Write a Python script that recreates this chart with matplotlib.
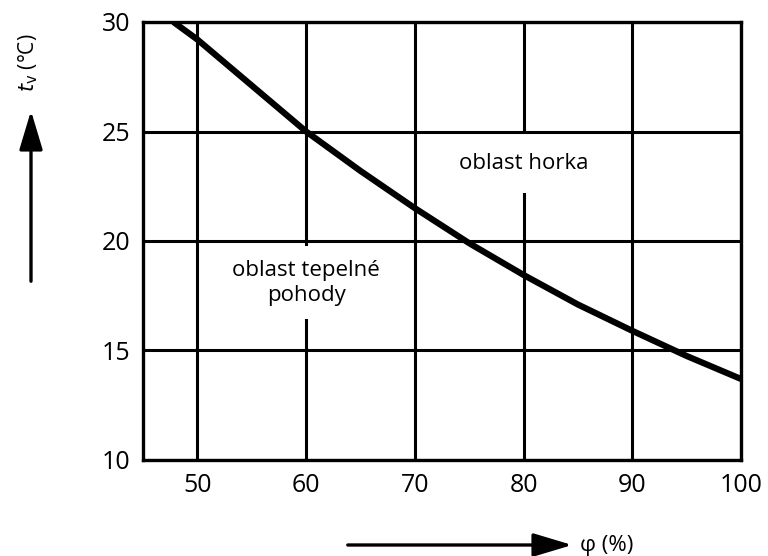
import matplotlib

matplotlib.use("Agg")
import matplotlib.pyplot as plt

plt.rcParams["font.family"] = ["Open Sans", "DejaVu Sans"]

# relative humidity (%) vs air temperature limit (°C)
phi = [47.8, 50, 55, 60, 65, 70, 75, 80, 85, 90, 95, 100]
t_v = [30.0, 29.2, 27.1, 25.0, 23.2, 21.5, 19.9, 18.45, 17.1, 15.9, 14.75, 13.7]

x_ticks = [50, 60, 70, 80, 90, 100]
y_ticks = [10, 15, 20, 25, 30]

W, H = 768, 556
fig = plt.figure(figsize=(W / 100, H / 100), dpi=100)
ax = fig.add_axes([143 / W, 1 - 460 / H, (741 - 143) / W, (460 - 22) / H])

ax.set_xlim(45, 100)
ax.set_ylim(10, 30)
ax.set_xticks(x_ticks)
ax.set_yticks(y_ticks)
ax.tick_params(length=0, labelsize=18, pad=9)
for s in ax.spines.values():
    s.set_linewidth(2.4)
    s.set_zorder(6)

# grid drawn by hand: labels mask the vertical lines only
for x in x_ticks:
    ax.axvline(x, color="black", lw=2.2, zorder=1)
for y in y_ticks:
    ax.axhline(y, color="black", lw=2.2, zorder=3)

ax.plot(phi, t_v, color="black", lw=4.5, solid_capstyle="butt", zorder=5)

ax.text(80, 23.55, "oblast horka", ha="center", va="center", fontsize=16,
        bbox=dict(facecolor="white", edgecolor="none", pad=14), zorder=2)
ax.text(60, 18.1, "oblast tepelné\npohody", ha="center", va="center", fontsize=16,
        linespacing=1.25,
        bbox=dict(facecolor="white", edgecolor="none", pad=10), zorder=2)

# axis captions with arrows
fig.text(28 / W, 1 - 63 / H, r"$t_\mathrm{v}$ (°C)", rotation=90,
         ha="center", va="center", fontsize=15)
fig.text(580 / W, 1 - 545 / H, "φ (%)", ha="left", va="center", fontsize=16)

arrow = dict(arrowstyle="-|>,head_length=2.4,head_width=0.72", color="black", lw=2.4)
ax.annotate("", xy=(31 / W, 1 - 108 / H), xytext=(31 / W, 1 - 284 / H),
            xycoords="figure fraction", textcoords="figure fraction",
            arrowprops=arrow, annotation_clip=False)
ax.annotate("", xy=(575 / W, 1 - 545 / H), xytext=(345 / W, 1 - 545 / H),
            xycoords="figure fraction", textcoords="figure fraction",
            arrowprops=arrow, annotation_clip=False)

fig.savefig("out.png", dpi=100)
